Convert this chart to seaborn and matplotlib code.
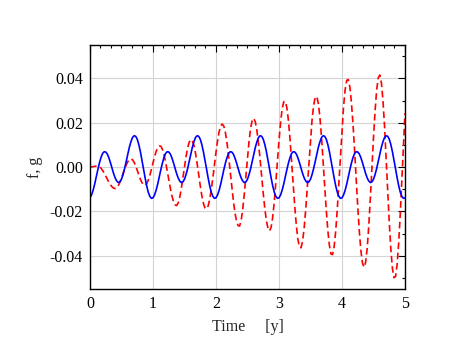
import numpy as np
import pandas as pd
import matplotlib
matplotlib.use("Agg")
import matplotlib.pyplot as plt
from matplotlib.ticker import MultipleLocator
import seaborn as sns

# time grid (years), step 0.025
time = np.linspace(0.0, 5.0, 201)

# f (blue, solid)
f_vals = [
    -0.0139, -0.0126, -0.0105, -0.0077, -0.0044, -0.0012, 0.0018, 0.0043, 0.0061, 0.0069,
    0.0068, 0.0059, 0.0042, 0.0020, -0.0005, -0.0029, -0.0049, -0.0063, -0.0070, -0.0067,
    -0.0055, -0.0034, -0.0007, 0.0025, 0.0058, 0.0089, 0.0114, 0.0133, 0.0141, 0.0139,
    0.0126, 0.0102, 0.0070, 0.0032, -0.0008, -0.0048, -0.0084, -0.0113, -0.0132, -0.0141,
    -0.0139, -0.0126, -0.0105, -0.0077, -0.0044, -0.0012, 0.0018, 0.0043, 0.0061, 0.0069,
    0.0068, 0.0059, 0.0042, 0.0020, -0.0005, -0.0029, -0.0049, -0.0063, -0.0070, -0.0067,
    -0.0055, -0.0034, -0.0007, 0.0025, 0.0058, 0.0089, 0.0114, 0.0133, 0.0141, 0.0139,
    0.0126, 0.0102, 0.0070, 0.0032, -0.0008, -0.0048, -0.0084, -0.0113, -0.0132, -0.0141,
    -0.0139, -0.0126, -0.0105, -0.0077, -0.0044, -0.0012, 0.0018, 0.0043, 0.0061, 0.0069,
    0.0068, 0.0059, 0.0042, 0.0020, -0.0005, -0.0029, -0.0049, -0.0063, -0.0070, -0.0067,
    -0.0055, -0.0034, -0.0007, 0.0025, 0.0058, 0.0089, 0.0114, 0.0133, 0.0141, 0.0139,
    0.0126, 0.0102, 0.0070, 0.0032, -0.0008, -0.0048, -0.0084, -0.0113, -0.0132, -0.0141,
    -0.0139, -0.0126, -0.0105, -0.0077, -0.0044, -0.0012, 0.0018, 0.0043, 0.0061, 0.0069,
    0.0068, 0.0059, 0.0042, 0.0020, -0.0005, -0.0029, -0.0049, -0.0063, -0.0070, -0.0067,
    -0.0055, -0.0034, -0.0007, 0.0025, 0.0058, 0.0089, 0.0114, 0.0133, 0.0141, 0.0139,
    0.0126, 0.0102, 0.0070, 0.0032, -0.0008, -0.0048, -0.0084, -0.0113, -0.0132, -0.0141,
    -0.0139, -0.0126, -0.0105, -0.0077, -0.0044, -0.0012, 0.0018, 0.0043, 0.0061, 0.0069,
    0.0068, 0.0059, 0.0042, 0.0020, -0.0005, -0.0029, -0.0049, -0.0063, -0.0070, -0.0067,
    -0.0055, -0.0034, -0.0007, 0.0025, 0.0058, 0.0089, 0.0114, 0.0133, 0.0141, 0.0139,
    0.0126, 0.0102, 0.0070, 0.0032, -0.0008, -0.0048, -0.0084, -0.0113, -0.0132, -0.0141,
    -0.0139,
]

# g (red, dashed)
g_vals = [
    0.0000, 0.0001, 0.0002, 0.0003, 0.0004, 0.0004, 0.0001, -0.0005, -0.0015, -0.0027,
    -0.0041, -0.0055, -0.0068, -0.0080, -0.0089, -0.0095, -0.0097, -0.0094, -0.0084, -0.0069,
    -0.0051, -0.0030, -0.0009, 0.0009, 0.0024, 0.0034, 0.0037, 0.0033, 0.0022, 0.0006,
    -0.0014, -0.0035, -0.0055, -0.0070, -0.0080, -0.0082, -0.0075, -0.0060, -0.0038, -0.0010,
    0.0019, 0.0046, 0.0070, 0.0087, 0.0095, 0.0094, 0.0080, 0.0056, 0.0024, -0.0015,
    -0.0055, -0.0094, -0.0129, -0.0154, -0.0170, -0.0174, -0.0162, -0.0136, -0.0097, -0.0050,
    0.0000, 0.0047, 0.0086, 0.0112, 0.0124, 0.0119, 0.0098, 0.0063, 0.0018, -0.0033,
    -0.0083, -0.0128, -0.0163, -0.0184, -0.0189, -0.0176, -0.0147, -0.0103, -0.0050, 0.0008,
    0.0066, 0.0118, 0.0159, 0.0185, 0.0194, 0.0184, 0.0155, 0.0109, 0.0050, -0.0016,
    -0.0085, -0.0149, -0.0203, -0.0242, -0.0264, -0.0266, -0.0241, -0.0190, -0.0121, -0.0041,
    0.0042, 0.0117, 0.0175, 0.0211, 0.0220, 0.0203, 0.0164, 0.0106, 0.0036, -0.0042,
    -0.0118, -0.0187, -0.0241, -0.0276, -0.0288, -0.0272, -0.0227, -0.0158, -0.0070, 0.0025,
    0.0119, 0.0200, 0.0261, 0.0294, 0.0297, 0.0268, 0.0210, 0.0127, 0.0029, -0.0075,
    -0.0176, -0.0262, -0.0326, -0.0361, -0.0364, -0.0334, -0.0274, -0.0189, -0.0087, 0.0020,
    0.0124, 0.0213, 0.0278, 0.0315, 0.0318, 0.0287, 0.0224, 0.0135, 0.0029, -0.0083,
    -0.0192, -0.0285, -0.0353, -0.0392, -0.0395, -0.0360, -0.0290, -0.0192, -0.0074, 0.0050,
    0.0170, 0.0273, 0.0349, 0.0391, 0.0395, 0.0361, 0.0291, 0.0193, 0.0075, -0.0053,
    -0.0178, -0.0289, -0.0377, -0.0433, -0.0452, -0.0430, -0.0366, -0.0266, -0.0141, -0.0005,
    0.0132, 0.0253, 0.0346, 0.0402, 0.0415, 0.0381, 0.0302, 0.0186, 0.0046, -0.0103,
    -0.0247, -0.0368, -0.0456, -0.0499, -0.0494, -0.0440, -0.0342, -0.0211, -0.0059, 0.0098,
    0.0243,
]

x_ticks = [0, 1, 2, 3, 4, 5]
x_tick_labels = ["0", "1", "2", "3", "4", "5"]
y_ticks = [-0.04, -0.02, 0.0, 0.02, 0.04]
y_tick_labels = ["-0.04", "-0.02", "0.00", "0.02", "0.04"]
x_label = "Time     [y]"
y_label = "f, g"

sns.set_theme(style="white")
plt.rcParams["font.family"] = ["Liberation Serif", "DejaVu Serif"]
plt.rcParams["axes.unicode_minus"] = False

df = pd.DataFrame({"time": time, "f": f_vals, "g": g_vals})

fig = plt.figure(figsize=(4.52, 3.54), dpi=100)
ax = fig.add_axes([0.199, 0.1836, 0.697, 0.689])

sns.lineplot(data=df, x="time", y="g", ax=ax, color="#ff0000", lw=1.2,
             linestyle=(0, (4, 2.2)), sort=False)
sns.lineplot(data=df, x="time", y="f", ax=ax, color="#0000ff", lw=1.2, sort=False)

ax.set_xlim(0, 5)
ax.set_ylim(-0.055, 0.055)
ax.set_xticks(x_ticks)
ax.set_xticklabels(x_tick_labels)
ax.set_yticks(y_ticks)
ax.set_yticklabels(y_tick_labels)
ax.xaxis.set_minor_locator(MultipleLocator(1 / 6))
ax.yaxis.set_minor_locator(MultipleLocator(0.01))

ax.grid(True, which="major", color="#d4d4d4", lw=0.8)
ax.set_axisbelow(True)

ax.tick_params(which="both", direction="in", top=True, right=True,
               colors="black", labelsize=11.5)
ax.tick_params(which="major", length=5, width=0.8, pad=5)
ax.tick_params(which="minor", length=2.5, width=0.8)

for s in ax.spines.values():
    s.set_color("black")
    s.set_linewidth(1.0)

ax.set_xlabel(x_label, fontsize=11.5, labelpad=5)
ax.set_ylabel(y_label, fontsize=11.5, labelpad=5)

fig.savefig("out.png", dpi=100)
